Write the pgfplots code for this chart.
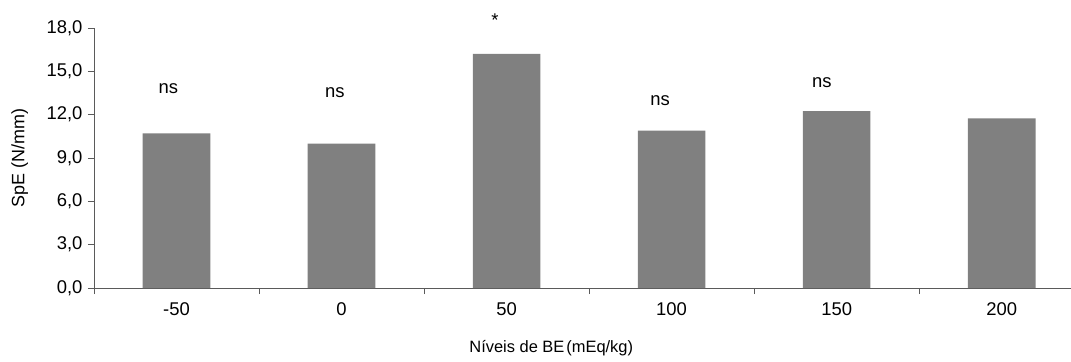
\documentclass[border=0pt]{standalone}
\usepackage{pgfplots}
\pgfplotsset{compat=1.18}
\usepackage{fontspec}
\setmainfont{Liberation Sans}

\definecolor{barfill}{HTML}{808080}
\definecolor{axisline}{HTML}{5A5A5A}

\begin{document}
\begin{tikzpicture}
\useasboundingbox (0,0) rectangle (1071bp,362bp);
\begin{axis}[
  at={(94bp,74bp)}, anchor=south west,
  scale only axis,
  width=977bp, height=260bp,
  xmin=-0.5, xmax=5.42,
  ymin=0, ymax=18,
  axis x line*=bottom,
  axis y line*=left,
  axis line style={axisline, line width=0.8bp, -},
  font=\fontsize{18.5}{22}\selectfont,
  /pgf/number format/assume math mode=true,
  xtick={0,1,2,3,4,5},
  xticklabels={-50,0,50,100,150,200},
  major x tick style={draw=none},
  minor xtick={-0.5,0.5,1.5,2.5,3.5,4.5},
  minor x tick style={axisline, line width=0.8bp},
  minor tick length=6bp,
  ytick={0,3,...,18},
  y tick style={axisline, line width=0.8bp},
  major tick length=6bp,
  tick align=outside,
  yticklabel style={xshift=-2bp, /pgf/number format/.cd, fixed, fixed zerofill, precision=1, use comma},
  xticklabel style={yshift=-5bp},
  xlabel={Níveis de BE\kern0.12em(mEq/kg)},
  ylabel={SpE (N/mm)},
  xlabel style={at={(axis description cs:0.468,-0.231)}, anchor=center,
    font=\fontsize{16.5}{20}\selectfont},
  ylabel style={at={(axis description cs:-0.076,0.5)}, anchor=center,
    font=\fontsize{18}{21}\selectfont},
  clip=false,
]
\addplot[ybar, bar width=0.41, fill=barfill, draw=none] coordinates {
  (0,10.7) (1,10.0) (2,16.2) (3,10.9) (4,12.25) (5,11.75)
};
\node at (axis cs:-0.05,13.8) {ns};
\node at (axis cs:0.96,13.5) {ns};
\node at (axis cs:1.93,18.55) {*};
\node at (axis cs:2.93,13.0) {ns};
\node at (axis cs:3.91,14.2) {ns};
\end{axis}
\end{tikzpicture}
\end{document}
